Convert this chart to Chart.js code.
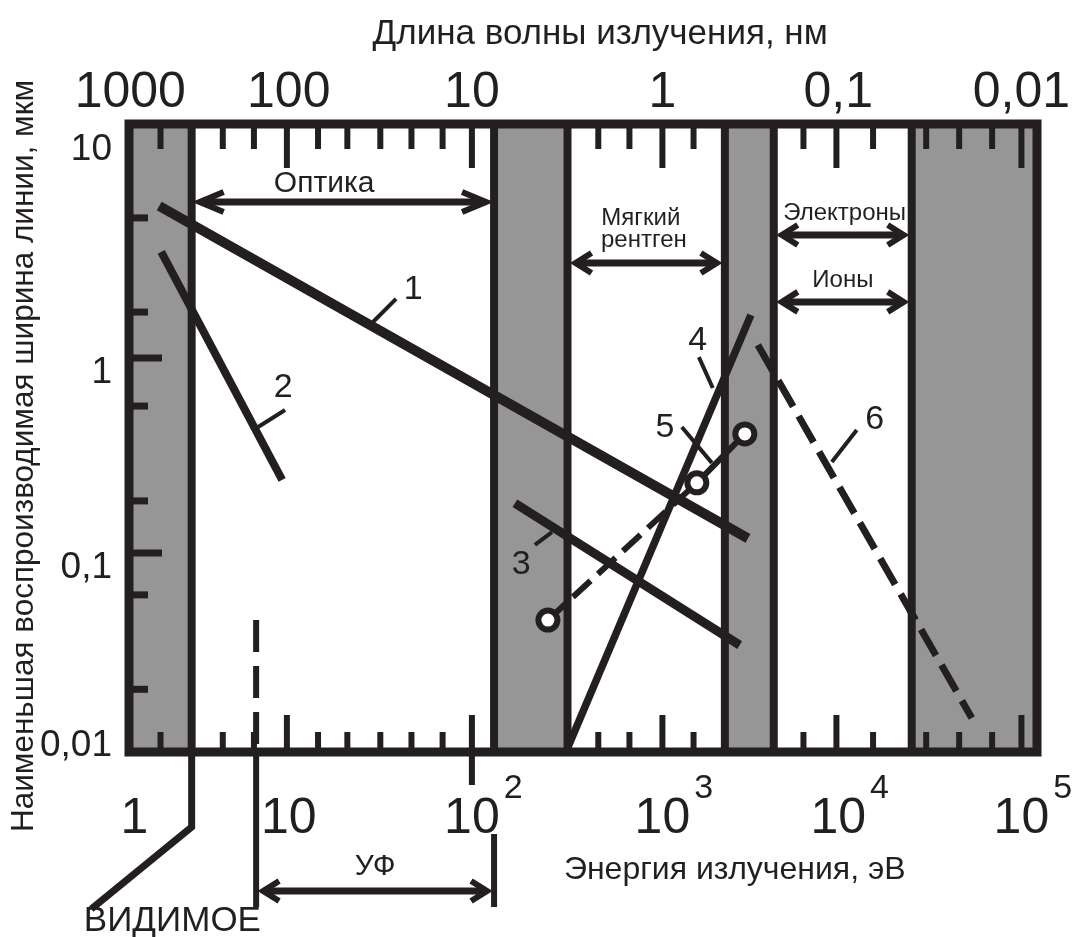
<!DOCTYPE html>
<html>
<head>
<meta charset="utf-8">
<script src="https://cdn.jsdelivr.net/npm/chart.js@4.4.0/dist/chart.umd.min.js"></script>
<style>
  html, body { margin: 0; background: #fff; }
  #wrap { width: 1079px; height: 937px; }
</style>
</head>
<body>
<div id="wrap"><canvas id="grafico"></canvas></div>
<script>
const INK = '#231f20';
const GRAY = '#979696';
const FONT = '"Liberation Sans", Arial, sans-serif';

// Ось X — lg(энергии, эВ) в той разметке, что на рисунке; ось Y — мкм, логарифм
const xRange = [0.128, 5.085];
const yRange = [0.00954, 15.85];

// Серые полосы и границы областей
const grayBands = [[0.128, 0.470], [2.121, 2.522], [3.381, 3.648], [4.401, 5.085]];
const bandEdges = [0.470, 2.121, 2.522, 3.381, 3.648, 4.401];

// Засечки
const xMinorTicks = [0.30, 0.64, 0.81, 1.16, 1.32, 1.50, 1.67, 1.84, 2.69, 2.86, 3.21, 3.81, 4.19, 4.48, 4.66, 4.84];
const xMajorTicks = [0.99, 2.0, 3.04, 3.99, 5.0];
const xTickBelow = [2.0];
const yMinorTicks = [5.23, 1.72, 0.567, 0.185, 0.061, 0.020];
const yMajorTicks = [1, 0.1];

// Подписи осей
const energyLabels = ['1', '10', '10', '10', '10', '10'];
const energyPowers = ['', '', '2', '3', '4', '5'];
const energyAt = [0.157, 1, 2, 3.04, 4, 5];
const waveLabels = ['1000', '100', '10', '1', '0,1', '0,01'];
const waveAt = [0.135, 1, 2, 3.04, 4, 5];
const yLabels = ['10', '1', '0,1', '0,01'];
const yLabelAt = [12.1, 0.868, 0.0868, 0.0106];

// Кривые 1–6
const line1 = [{x: 0.293, y: 6.02}, {x: 3.507, y: 0.119}];
const line2 = [{x: 0.304, y: 3.50}, {x: 0.964, y: 0.237}];
const line3 = [{x: 2.235, y: 0.180}, {x: 3.462, y: 0.0337}];
const line4 = [{x: 2.524, y: 0.0101}, {x: 3.523, y: 1.66}];
const line5 = [{x: 2.415, y: 0.0453}, {x: 3.228, y: 0.229}, {x: 3.490, y: 0.408}];
const line6 = [{x: 3.561, y: 1.166}, {x: 4.729, y: 0.01426}];

// Номера кривых: текст, место, выноска
const callouts = [
  {t: '1', at: [1.679, 2.31], from: [1.460, 1.53], to: [1.586, 2.01]},
  {t: '2', at: [0.970, 0.727], from: [0.833, 0.443], to: [0.980, 0.541]},
  {t: '3', at: [2.269, 0.0899], from: [2.437, 0.128], to: [2.344, 0.110]},
  {t: '4', at: [3.233, 1.266], from: [3.239, 1.01], to: [3.315, 0.702]},
  {t: '5', at: [3.054, 0.453], from: [3.146, 0.443], to: [3.310, 0.290]},
  {t: '6', at: [4.199, 0.498], from: [4.101, 0.427], to: [3.965, 0.293]}
];

// Стрелки диапазонов
const ranges = [
  {from: 0.470, to: 2.121, y: 6.31, head: 28, text: [['Оптика', 1.193, 8.09]], size: 30},
  {from: 2.522, to: 3.381, y: 3.07, head: 20, text: [['Мягкий', 2.922, 5.32], ['рентген', 2.939, 4.10]], size: 24},
  {from: 3.648, to: 4.401, y: 4.27, head: 20, text: [['Электроны', 4.035, 5.67]], size: 24},
  {from: 3.648, to: 4.401, y: 1.94, head: 20, text: [['Ионы', 4.025, 2.57]], size: 24}
];
const uvRange = [0.822, 2.121];
const uvDashTop = 0.0453;
const visibleEdge = 0.470;

function seg(ctx, x0, y0, x1, y1) {
  ctx.beginPath();
  ctx.moveTo(x0, y0);
  ctx.lineTo(x1, y1);
  ctx.stroke();
}

function texto(ctx, str, x, yc, size, align = 'center') {
  ctx.font = size + 'px ' + FONT;
  ctx.textAlign = align;
  ctx.textBaseline = 'alphabetic';
  ctx.fillText(str, x, yc + size * 0.358);
}

function arrow(ctx, x0, x1, y, L) {
  const W = 10;
  ctx.lineWidth = 7;
  ctx.lineJoin = 'miter';
  seg(ctx, x0 + 6, y, x1 - 6, y);
  ctx.lineWidth = 6;
  ctx.beginPath();
  ctx.moveTo(x0 + L, y - W); ctx.lineTo(x0 + 4, y); ctx.lineTo(x0 + L, y + W);
  ctx.stroke();
  ctx.beginPath();
  ctx.moveTo(x1 - L, y - W); ctx.lineTo(x1 - 4, y); ctx.lineTo(x1 - L, y + W);
  ctx.stroke();
}

const esquema = {
  id: 'esquema',
  beforeDatasetsDraw(chart) {
    const {ctx, chartArea: a, scales: {x, y}} = chart;
    ctx.save();
    ctx.fillStyle = GRAY;
    grayBands.forEach(([b0, b1]) => {
      const p0 = x.getPixelForValue(b0), p1 = x.getPixelForValue(b1);
      ctx.fillRect(p0, a.top, p1 - p0, a.bottom - a.top);
    });
    ctx.strokeStyle = INK;
    ctx.lineWidth = 8;
    bandEdges.forEach(v => {
      const px = x.getPixelForValue(v);
      seg(ctx, px, a.top, px, a.bottom);
    });

    // засечки сверху и снизу
    ctx.lineWidth = 6;
    xMinorTicks.forEach(v => {
      const px = x.getPixelForValue(v);
      seg(ctx, px, a.top, px, a.top + 25);
      seg(ctx, px, a.bottom, px, a.bottom - 20);
    });
    xMajorTicks.forEach(v => {
      const px = x.getPixelForValue(v);
      seg(ctx, px, a.top, px, a.top + 44);
      seg(ctx, px, a.bottom, px, a.bottom - 37);
    });
    xTickBelow.forEach(v => {
      const px = x.getPixelForValue(v);
      seg(ctx, px, a.bottom, px, a.bottom + 33);
    });
    ctx.lineWidth = 7;
    yMinorTicks.forEach(v => {
      const py = y.getPixelForValue(v);
      seg(ctx, a.left, py, a.left + 19, py);
    });
    yMajorTicks.forEach(v => {
      const py = y.getPixelForValue(v);
      seg(ctx, a.left, py, a.left + 33, py);
    });

    // УФ: пунктир внутри поля
    const uv0 = x.getPixelForValue(uvRange[0]);
    ctx.lineWidth = 6;
    ctx.setLineDash([32, 14]);
    seg(ctx, uv0, y.getPixelForValue(uvDashTop), uv0, a.bottom);
    ctx.setLineDash([]);
    ctx.restore();
  },
  afterDatasetsDraw(chart) {
    const {ctx, chartArea: a, scales: {x, y}} = chart;
    ctx.save();
    ctx.strokeStyle = INK;
    ctx.fillStyle = INK;

    // рамка
    ctx.lineWidth = 9;
    ctx.lineJoin = 'miter';
    ctx.strokeRect(a.left, a.top, a.right - a.left, a.bottom - a.top);

    // стрелки диапазонов
    ranges.forEach(r => {
      const x0 = x.getPixelForValue(r.from) + 4, x1 = x.getPixelForValue(r.to) - 4;
      arrow(ctx, x0, x1, y.getPixelForValue(r.y), r.head);
      r.text.forEach(([s, tx, ty]) => texto(ctx, s, x.getPixelForValue(tx), y.getPixelForValue(ty), r.size));
    });

    // номера кривых
    callouts.forEach(c => {
      ctx.lineWidth = 4;
      seg(ctx, x.getPixelForValue(c.from[0]), y.getPixelForValue(c.from[1]),
               x.getPixelForValue(c.to[0]), y.getPixelForValue(c.to[1]));
      texto(ctx, c.t, x.getPixelForValue(c.at[0]), y.getPixelForValue(c.at[1]), 34);
    });

    // УФ под осью
    const uv0 = x.getPixelForValue(uvRange[0]), uv1 = x.getPixelForValue(uvRange[1]);
    ctx.lineWidth = 6;
    seg(ctx, uv0, a.bottom, uv0, a.bottom + 155);
    seg(ctx, uv1, a.bottom + 82, uv1, a.bottom + 155);
    arrow(ctx, uv0 + 3, uv1 - 3, a.bottom + 139, 20);
    texto(ctx, 'УФ', (uv0 + uv1) / 2, a.bottom + 112, 30);

    // видимое
    const vis = x.getPixelForValue(visibleEdge);
    ctx.lineWidth = 7;
    ctx.beginPath();
    ctx.moveTo(vis, a.bottom);
    ctx.lineTo(vis, a.bottom + 75);
    ctx.lineTo(x.getPixelForValue(-0.078), a.bottom + 157);
    ctx.stroke();
    texto(ctx, 'ВИДИМОЕ', x.getPixelForValue(0.365), a.bottom + 166, 35);

    // подписи шкал
    energyLabels.forEach((s, i) => {
      const cx = x.getPixelForValue(energyAt[i]);
      texto(ctx, s, cx, a.bottom + 63, 50);
      if (energyPowers[i]) {
        ctx.font = '50px ' + FONT;
        const w = ctx.measureText(s).width;
        texto(ctx, energyPowers[i], cx + w / 2 + 4, a.bottom + 34, 34, 'left');
      }
    });
    waveLabels.forEach((s, i) => {
      texto(ctx, s, x.getPixelForValue(waveAt[i]), a.top - 35, 50);
    });
    yLabels.forEach((s, i) => {
      texto(ctx, s, a.left - 17, y.getPixelForValue(yLabelAt[i]), 37, 'right');
    });

    // названия осей
    texto(ctx, 'Длина волны излучения, нм', x.getPixelForValue(2.70), 31, 35);
    texto(ctx, 'Энергия излучения, эВ', x.getPixelForValue(3.435), a.bottom + 116, 32);
    ctx.translate(22, 456);
    ctx.rotate(-Math.PI / 2);
    texto(ctx, 'Наименьшая воспроизводимая ширина линии, мкм', 0, 0, 31.5);
    ctx.restore();
  }
};

new Chart(document.getElementById('grafico'), {
  type: 'line',
  data: {
    datasets: [
      {data: line1, borderWidth: 10},
      {data: line2, borderWidth: 8},
      {data: line3, borderWidth: 9},
      {data: line4, borderWidth: 7.5},
      {
        data: line5, borderWidth: 6,
        pointRadius: 9.5, pointBorderWidth: 6,
        pointBackgroundColor: '#fff', pointBorderColor: INK,
        segment: {borderDash: ctx => ctx.p0DataIndex === 0 ? [24, 10] : []}
      },
      {data: line6, borderWidth: 7, borderDash: [30, 11]}
    ]
  },
  options: {
    responsive: true,
    maintainAspectRatio: false,
    animation: false,
    layout: {padding: {left: 129, right: 42, top: 124, bottom: 185}},
    plugins: {legend: {display: false}, tooltip: {enabled: false}},
    elements: {
      line: {borderColor: INK, tension: 0, fill: false},
      point: {radius: 0, hoverRadius: 0}
    },
    scales: {
      x: {type: 'linear', min: xRange[0], max: xRange[1], display: false},
      y: {type: 'logarithmic', min: yRange[0], max: yRange[1], display: false}
    }
  },
  plugins: [esquema]
});
</script>
</body>
</html>
